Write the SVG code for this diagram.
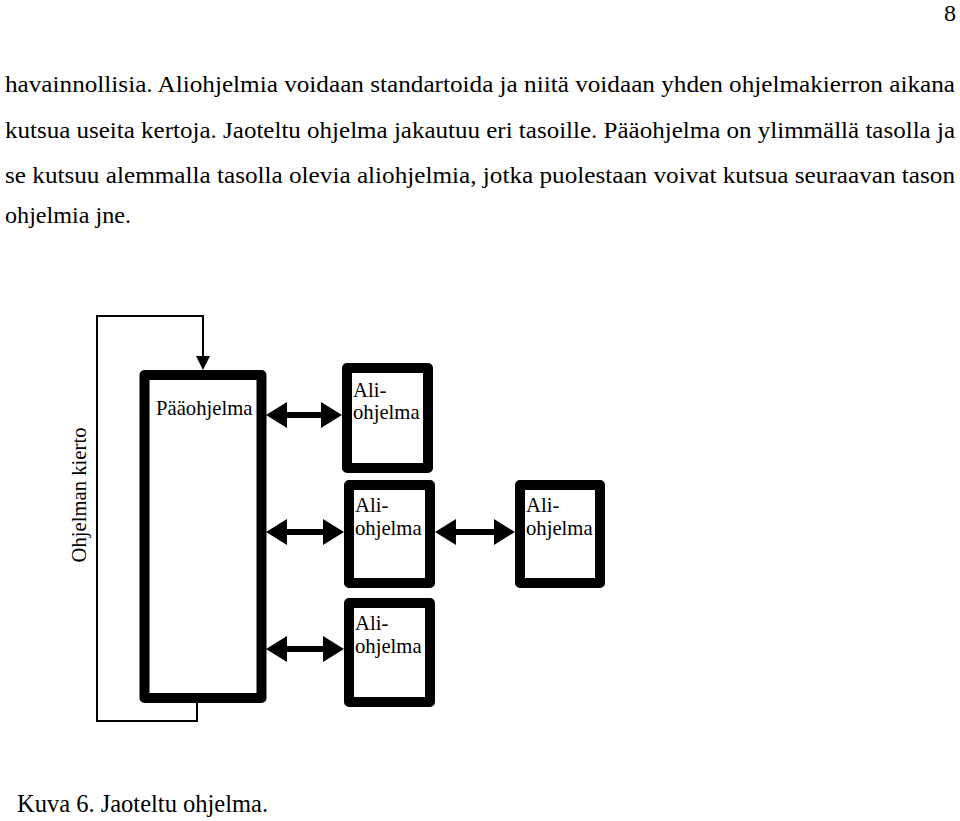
<svg xmlns="http://www.w3.org/2000/svg" width="960" height="821" viewBox="0 0 960 821">
<style>
.t{font-family:"Liberation Serif","Times New Roman",serif;font-size:24px;fill:#000}
.c{font-family:"Liberation Serif","Times New Roman",serif;font-size:24.5px;fill:#000}
.l{font-family:"Liberation Serif","Times New Roman",serif;font-size:20.7px;fill:#000}
.box{fill:#fff;stroke:#000;stroke-width:10;stroke-linejoin:round}
.thin{fill:none;stroke:#000;stroke-width:2}
</style>
<rect width="960" height="821" fill="#fff"/>
<text class="t" x="944" y="21">8</text>
<text class="t" x="5" y="92" textLength="950" lengthAdjust="spacingAndGlyphs">havainnollisia. Aliohjelmia voidaan standartoida ja niitä voidaan yhden ohjelmakierron aikana</text>
<text class="t" x="5" y="138" textLength="950" lengthAdjust="spacingAndGlyphs">kutsua useita kertoja. Jaoteltu ohjelma jakautuu eri tasoille. Pääohjelma on ylimmällä tasolla ja</text>
<text class="t" x="5" y="183" textLength="950" lengthAdjust="spacingAndGlyphs">se kutsuu alemmalla tasolla olevia aliohjelmia, jotka puolestaan voivat kutsua seuraavan tason</text>
<text class="t" x="5" y="223" textLength="126" lengthAdjust="spacingAndGlyphs">ohjelmia jne.</text>
<text class="c" x="17" y="812">Kuva 6. Jaoteltu ohjelma.</text>

<g id="connectors">
<path class="thin" d="M197,703 V721 H97 V316 H203 V358"/>
<path d="M196,356 L210,356 L203,370 Z" fill="#000"/>
<g id="a1"><rect x="285" y="412" width="38" height="6"/><path d="M266,415 L287,402 L287,428 Z M342,415 L321,402 L321,428 Z"/></g>
<g id="a2"><rect x="285" y="529" width="40" height="6"/><path d="M266,532 L287,519 L287,545 Z M344,532 L323,519 L323,545 Z"/></g>
<g id="a3"><rect x="285" y="646" width="40" height="6"/><path d="M266,649 L287,636 L287,662 Z M344,649 L323,636 L323,662 Z"/></g>
<g id="a4"><rect x="454" y="529" width="44" height="6"/><path d="M435,532 L456,519 L456,545 Z M515,532 L494,519 L494,545 Z"/></g>
</g>

<g id="main"><rect class="box" x="144.5" y="375" width="117" height="323"/><text class="l" x="156" y="415">Pääohjelma</text></g>
<g id="ali1"><rect class="box" x="347" y="368" width="81" height="100"/><text class="l" x="353" y="397">Ali-</text><text class="l" x="353" y="419">ohjelma</text></g>
<g id="ali2"><rect class="box" x="349" y="485" width="81" height="98"/><text class="l" x="355" y="512">Ali-</text><text class="l" x="355" y="535">ohjelma</text></g>
<g id="ali3"><rect class="box" x="349" y="603" width="81" height="99"/><text class="l" x="355" y="630">Ali-</text><text class="l" x="355" y="653">ohjelma</text></g>
<g id="ali4"><rect class="box" x="520" y="485" width="80" height="98"/><text class="l" x="526" y="512">Ali-</text><text class="l" x="526" y="535">ohjelma</text></g>
<g id="kierto"><text class="l" transform="translate(86,495) rotate(-90)" text-anchor="middle">Ohjelman kierto</text></g>
</svg>
